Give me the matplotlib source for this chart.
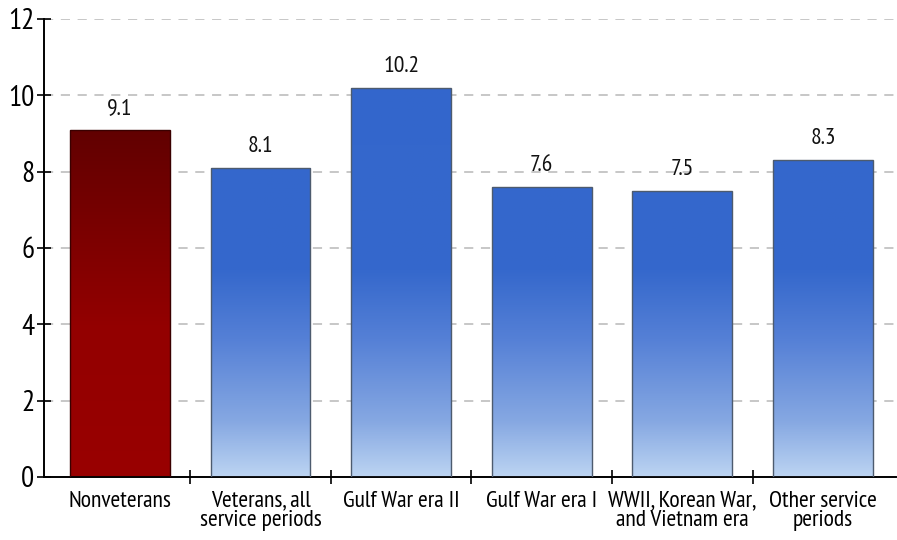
import numpy as np
import matplotlib
matplotlib.use('Agg')
import matplotlib.pyplot as plt
from matplotlib.colors import LinearSegmentedColormap

plt.rcParams['font.family'] = ['PT Sans Narrow', 'DejaVu Sans']

categories = ['Nonveterans', 'Veterans, all\nservice periods', 'Gulf War era II',
              'Gulf War era I', 'WWII, Korean War,\nand Vietnam era', 'Other service\nperiods']
values = [9.1, 8.1, 10.2, 7.6, 7.5, 8.3]
labels = ['9.1', '8.1', '10.2', '7.6', '7.5', '8.3']

# gradients run in data space (0 at bottom, 12 at top)
red_cmap = LinearSegmentedColormap.from_list(
    'red', [(0, '#990000'), (0.33, '#930000'), (0.75, '#620000'), (1, '#550000')])
blue_cmap = LinearSegmentedColormap.from_list(
    'blue', [(0, '#bcd4f2'), (0.12, '#86a8e2'), (0.3, '#5580d6'), (0.45, '#3568cc'), (1, '#3366cc')])

fig, ax = plt.subplots(figsize=(8.97, 5.40), dpi=100)
fig.subplots_adjust(left=0.049, right=0.999, top=0.965, bottom=0.117)

x = np.arange(len(values))
bars = ax.bar(x, values, width=0.71, color='none', zorder=3)

grad = np.linspace(0, 1, 256).reshape(-1, 1)
for i, b in enumerate(bars):
    cmap = red_cmap if i == 0 else blue_cmap
    edge = '#3a0000' if i == 0 else '#4d5b6e'
    x0 = b.get_x()
    w = b.get_width()
    im = ax.imshow(grad, cmap=cmap, origin='lower', aspect='auto',
                   extent=(x0, x0 + w, 0, 12), zorder=2, vmin=0, vmax=1)
    im.set_clip_path(b)
    b.set_edgecolor(edge)
    b.set_linewidth(1.0)
    ax.text(b.get_x() + w / 2, values[i] + 0.28, labels[i], ha='center', va='bottom',
            fontsize=17, color='#111111')

ax.set_xlim(-0.54, 5.52)
ax.set_ylim(0, 12)
ax.set_yticks(range(0, 13, 2))
ax.yaxis.grid(True, linestyle=(0, (6, 5)), color='#b8b8b8', linewidth=1.1)
ax.set_axisbelow(True)

ax.set_xticks(x)
ax.set_xticklabels(categories, fontsize=17, linespacing=0.92)
ax.tick_params(axis='x', which='major', length=0, pad=10)
ax.set_xticks(x[:-1] + 0.5, minor=True)
ax.tick_params(axis='x', which='minor', direction='inout', length=10, width=1.2)
ax.tick_params(axis='y', direction='inout', length=10, width=1.2, labelsize=21, pad=2)

for s in ['top', 'right']:
    ax.spines[s].set_visible(False)
ax.spines['left'].set_linewidth(1.4)
ax.spines['bottom'].set_linewidth(1.4)

fig.savefig('out.png', dpi=100)
